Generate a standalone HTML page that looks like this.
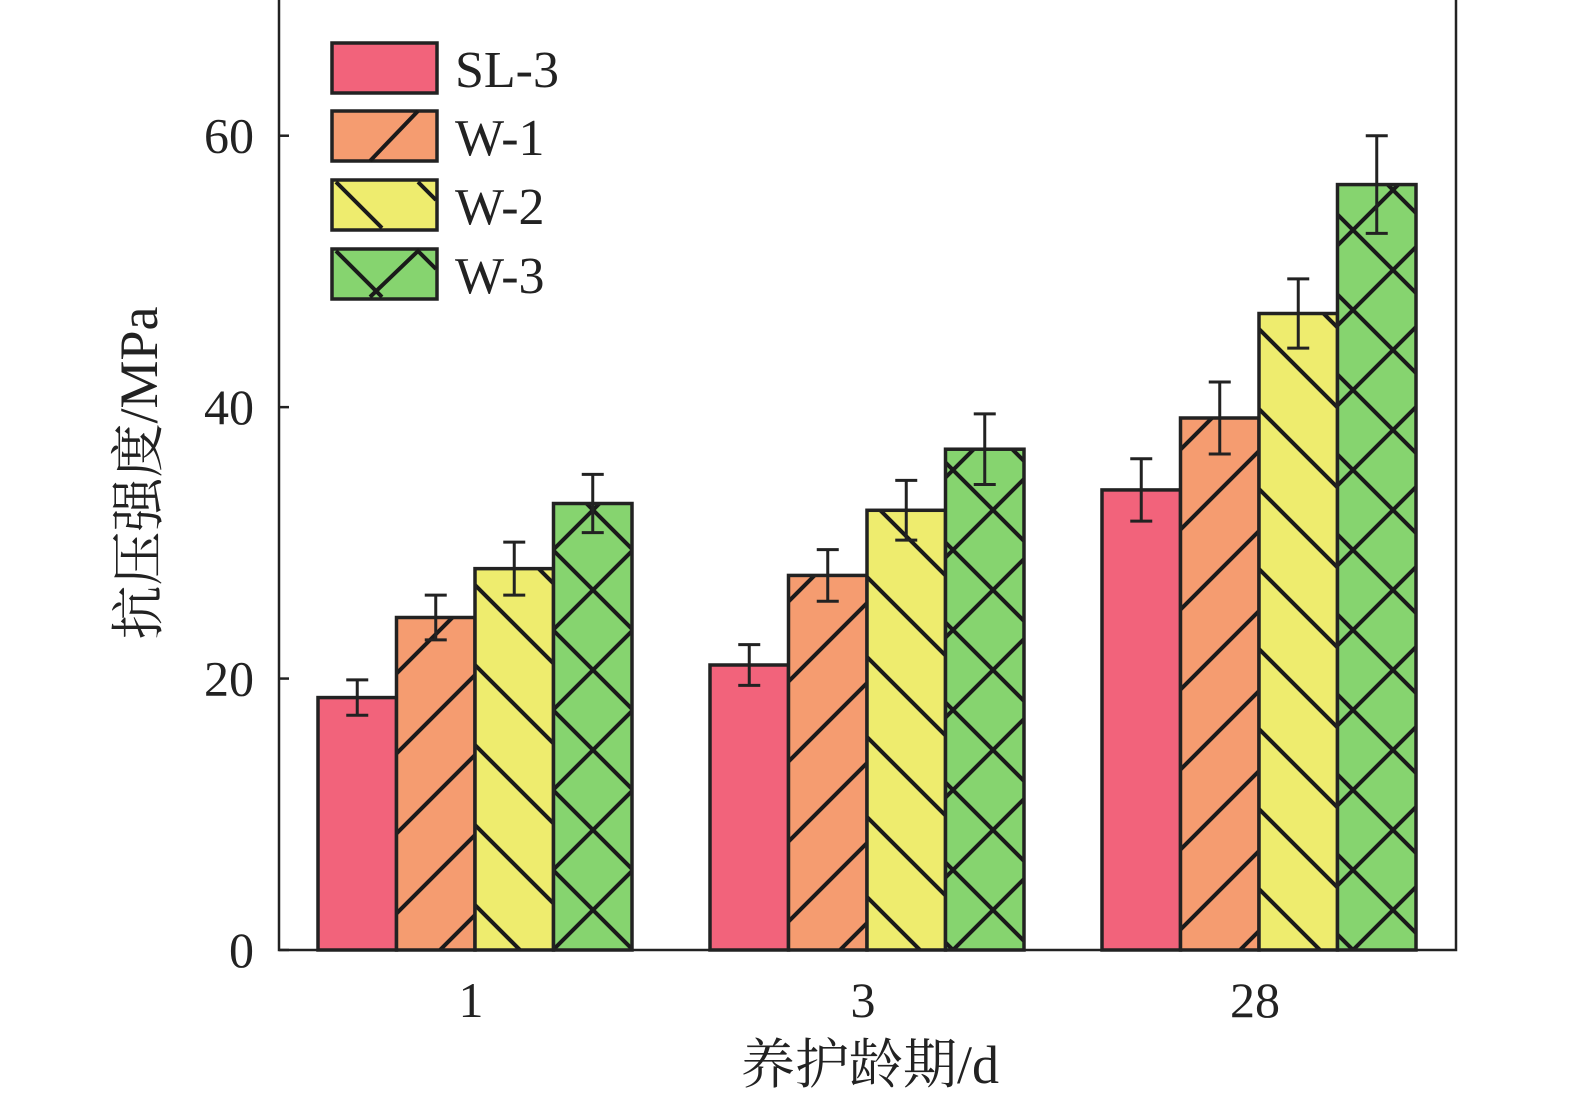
<!DOCTYPE html>
<html><head><meta charset="utf-8"><style>
html,body{margin:0;padding:0;background:#fff;overflow:hidden;width:1575px;height:1096px;}
svg{display:block;font-family:"Liberation Serif","Noto Serif CJK SC",serif;}
</style></head><body>
<svg id="chart" width="1575" height="1096" viewBox="0 0 1575 1096">
<defs>
<pattern id="p1" patternUnits="userSpaceOnUse" width="80" height="80" x="0" y="30">
<rect width="80" height="80" fill="#f59c70"/>
<path d="M-10,10 L10,-10 M0,80 L80,0 M70,90 L90,70" stroke="#1a1a1a" stroke-width="4"/>
</pattern>
<pattern id="p2" patternUnits="userSpaceOnUse" width="80" height="80" x="0" y="30">
<rect width="80" height="80" fill="#eeec6e"/>
<path d="M-10,70 L10,90 M0,0 L80,80 M70,-10 L90,10" stroke="#1a1a1a" stroke-width="4"/>
</pattern>
<pattern id="p3" patternUnits="userSpaceOnUse" width="80" height="80" x="33" y="30">
<rect width="80" height="80" fill="#86d46f"/>
<path d="M-10,70 L10,90 M0,0 L80,80 M70,-10 L90,10 M-10,10 L10,-10 M0,80 L80,0 M70,90 L90,70" stroke="#1a1a1a" stroke-width="4"/>
</pattern>
</defs>
<g id="plot"></g>
</svg>
<script>
const categories = ["1","3","28"];
const seriesNames = ["SL-3","W-1","W-2","W-3"];
const sl3 = [18.6, 21.0, 33.9];
const w1 = [24.5, 27.6, 39.2];
const w2 = [28.1, 32.4, 46.9];
const w3 = [32.9, 36.9, 56.4];
const sl3Err = [1.3, 1.5, 2.3];
const w1Err = [1.65, 1.9, 2.65];
const w2Err = [1.95, 2.2, 2.55];
const w3Err = [2.15, 2.6, 3.6];
const yTicks = [0, 20, 40, 60];

const NS = "http://www.w3.org/2000/svg";
const X0 = 279, X1 = 1456, Y0 = 950, YT = 0, YMAX = 70;
const yScale = v => Y0 - v / YMAX * (Y0 - YT);
const groupCenter = i => 475 + i * 392;
const barW = 78.5;
const fills = ["#f2637b", "url(#p1)", "url(#p2)", "url(#p3)"];
const legendFills = ["#f2637b", "#f59c70", "#eeec6e", "#86d46f"];
const allVals = [sl3, w1, w2, w3];
const allErr = [sl3Err, w1Err, w2Err, w3Err];
const g = document.getElementById("plot");
function mk(tag, attrs, parent) {
  const e = document.createElementNS(NS, tag);
  for (const k in attrs) e.setAttribute(k, attrs[k]);
  (parent || g).appendChild(e);
  return e;
}
allVals.forEach((vals, s) => {
  vals.forEach((v, i) => {
    const x = groupCenter(i) + (s - 2) * barW;
    const r = mk("rect", {x: x, y: yScale(v), width: barW, height: Y0 - yScale(v), fill: fills[s], stroke: "#222", "stroke-width": 3.5});
    
    
  });
});
allVals.forEach((vals, s) => {
  vals.forEach((v, i) => {
    const cx = groupCenter(i) + (s - 2) * barW + barW / 2;
    const e = allErr[s][i];
    const p = mk("path", {d: `M${cx},${yScale(v + e)} V${yScale(v - e)} M${cx - 11},${yScale(v + e)} H${cx + 11} M${cx - 11},${yScale(v - e)} H${cx + 11}`, stroke: "#222", "stroke-width": 3, fill: "none"});
    
    
  });
});
const fr = mk("rect", {x: X0, y: -2, width: X1 - X0, height: Y0 + 2, fill: "none", stroke: "#222", "stroke-width": 2.5});


yTicks.forEach(t => {
  const y = yScale(t);
  const tk = mk("line", {x1: X0, x2: X0 + 10, y1: y, y2: y, stroke: "#222", "stroke-width": 2.5});
  
  
  const tx = mk("text", {x: 254, y: y + 17, "text-anchor": "end", "font-size": 50, fill: "#222"});
  tx.textContent = t;
  
  
});
categories.forEach((c, i) => {
  const tx = mk("text", {x: groupCenter(i) - 4, y: 1017, "text-anchor": "middle", "font-size": 50, fill: "#222"});
  tx.textContent = c;
  
  
});
const xt = mk("text", {x: 870, y: 1083, "text-anchor": "middle", "font-size": 54, fill: "#222"});
xt.textContent = "养护龄期/d";


const yt = mk("text", {x: 0, y: 0, "text-anchor": "middle", "font-size": 54, fill: "#222", transform: "translate(157,473) rotate(-90)"});
yt.textContent = "抗压强度/MPa";


const legTop = [43, 111, 180, 249];
const legPaths = ["", "M370,161 L418,111", "M336,182 L382,228 M418,182 L436,200", "M336,251 L382,297 M370,297 L418,251 L436,269"];
seriesNames.forEach((n, s) => {
  const r = mk("rect", {x: 332, y: legTop[s], width: 105, height: 50, fill: legendFills[s], stroke: "#222", "stroke-width": 3.5});
  
  
  if (legPaths[s]) {
    const p = mk("path", {d: legPaths[s], stroke: "#1a1a1a", "stroke-width": 4, fill: "none"});
    
    
  }
  const t = mk("text", {x: 455, y: legTop[s] + 44, "font-size": 52, fill: "#222"});
  t.textContent = n;
  
  
});
</script>
</body></html>
